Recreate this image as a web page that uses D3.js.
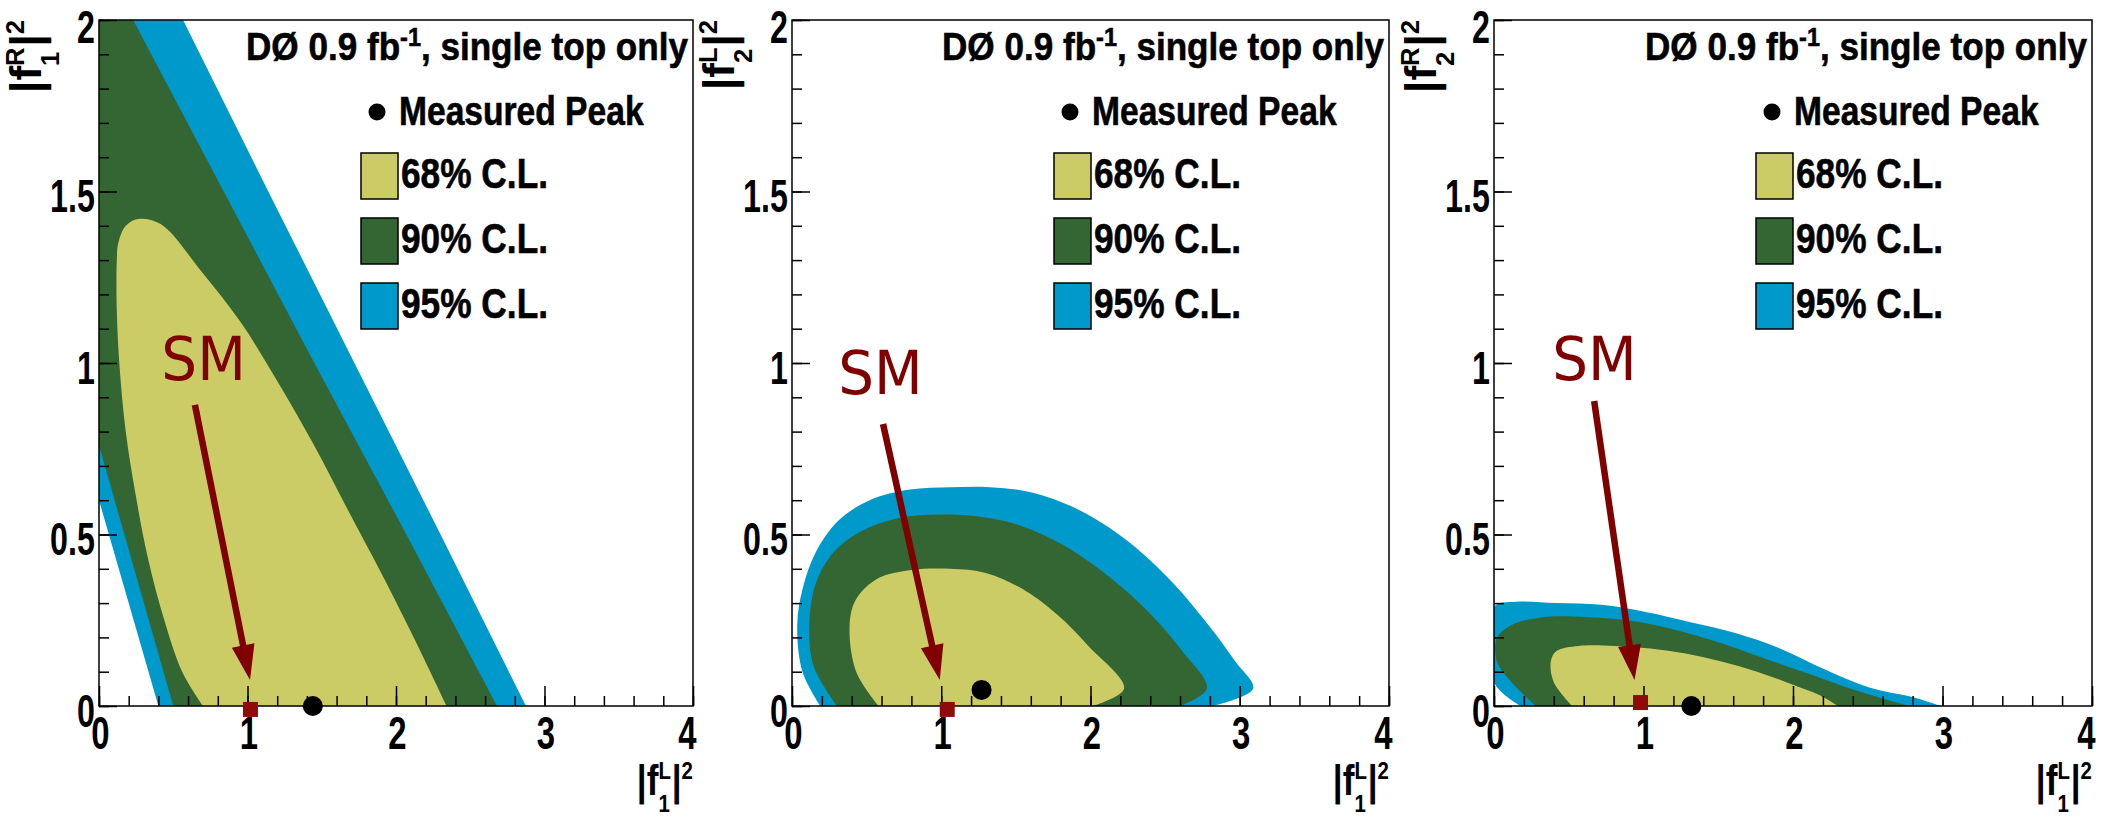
<!DOCTYPE html>
<html>
<head>
<meta charset="utf-8">
<script src="https://cdn.jsdelivr.net/npm/d3@7"></script>
<style>
  html, body { margin: 0; padding: 0; background: #fff; }
  svg { display: block; }
  text { font-family: "Liberation Sans", Arial, Helvetica, sans-serif; font-weight: bold; }
</style>
</head>
<body>
<div id="chart"></div>
<script>
// axis ticks and labels
const xTicks = [0, 1, 2, 3, 4];
const xTickLabels = ['0', '1', '2', '3', '4'];
const yTicks = [0, 0.5, 1, 1.5, 2];
const yTickLabels = ['0', '0.5', '1', '1.5', '2'];

// legend
const headerText = ['D\u00D8 0.9 fb', '-1', ', single top only'];
const peakLabel = 'Measured Peak';
const legendLabels = ['68% C.L.', '90% C.L.', '95% C.L.'];

// y axis titles |f^{sup}_{sub}|^2 for each panel
const yTitleSup = ['R', 'L', 'R'];
const yTitleSub = ['1', '2', '2'];

// contour outlines, [|f1L|^2, |f|^2]
const cl95_f1R = [[0.40, 0], [2.875, 0], [2.30, 0.50], [1.72, 1.0], [1.14, 1.50], [0.566, 2], [0, 2], [0, 0.60]];
const cl90_f1R = [[0.50, 0], [2.68, 0], [2.07, 0.50], [1.45, 1.0], [0.84, 1.50], [0.23, 2], [0, 2], [0, 0.76]];
const cl68_f1R = [[2.34, 0], [2.13, 0.19], [1.918, 0.373], [1.678, 0.57], [1.438, 0.768],
  [1.197, 0.95], [0.957, 1.117], [0.686, 1.269], [0.415, 1.405], [0.265, 1.42], [0.18, 1.40],
  [0.13, 1.35], [0.12, 1.30], [0.12, 1.15], [0.14, 0.98], [0.18, 0.80], [0.245, 0.62],
  [0.33, 0.43], [0.44, 0.25], [0.56, 0.10], [0.70, 0]];

const cl95_f2L = [[2.82, 0], [3.09, 0.051], [2.97, 0.13], [2.79, 0.236], [2.554, 0.358], [2.255, 0.479],
  [1.93, 0.570], [1.60, 0.623], [1.33, 0.638], [1.06, 0.638], [0.79, 0.631], [0.52, 0.60],
  [0.31, 0.54], [0.16, 0.449], [0.072, 0.343], [0.035, 0.236], [0.07, 0.10], [0.19, 0]];
const cl90_f2L = [[2.60, 0], [2.78, 0.051], [2.614, 0.16], [2.405, 0.267], [2.135, 0.373], [1.837, 0.464],
  [1.537, 0.525], [1.238, 0.553], [0.97, 0.558], [0.70, 0.547], [0.46, 0.509], [0.28, 0.449],
  [0.16, 0.358], [0.116, 0.236], [0.146, 0.115], [0.30, 0]];
const cl68_f2L = [[2.016, 0], [2.225, 0.051], [1.986, 0.175], [1.776, 0.267], [1.537, 0.343], [1.298, 0.388],
  [1.06, 0.40], [0.79, 0.396], [0.58, 0.373], [0.43, 0.312], [0.386, 0.236], [0.43, 0.10], [0.58, 0]];

const cl95_f2R = [[2.99, 0], [2.81, 0.025], [2.51, 0.054], [2.21, 0.107], [1.913, 0.168], [1.614, 0.213],
  [1.315, 0.244], [1.016, 0.274], [0.717, 0.295], [0.418, 0.30], [0.148, 0.304], [0, 0.289],
  [0, 0.069], [0.177, 0]];
const cl90_f2R = [[2.777, 0], [2.417, 0.046], [2.119, 0.092], [1.82, 0.137], [1.521, 0.183], [1.223, 0.221],
  [0.924, 0.248], [0.625, 0.259], [0.327, 0.259], [0.118, 0.236], [0.02, 0.198], [0.02, 0.13],
  [0.118, 0.069], [0.28, 0]];
const cl68_f2R = [[2.30, 0], [2.18, 0.031], [2.0, 0.062], [1.76, 0.10], [1.521, 0.13], [1.283, 0.153],
  [1.046, 0.168], [0.807, 0.175], [0.567, 0.175], [0.418, 0.16], [0.38, 0.13], [0.40, 0.069], [0.522, 0]];

// markers and SM annotation, per panel
const measuredPeak = [[1.44, 0], [1.27, 0.047], [1.32, 0]];
const smPoint = [[1.02, -0.01], [1.04, -0.01], [0.98, 0.01]];
const smLabelAt = [[0.42, 0.95], [0.31, 0.91], [0.39, 0.95]];
const arrowFrom = [[0.646, 0.878], [0.61, 0.822], [0.67, 0.889]];
const arrowTo = [[1.017, 0.076], [0.99, 0.076], [0.94, 0.076]];

(function() {
  'use strict';

  const width = 2101,
        height = 816,
        top = 20,
        bottom = 706,
        fillColors = ['#0099cc', '#336633', '#cccc66'],   // 95, 90, 68
        legendColors = ['#cccc66', '#336633', '#0099cc'],
        smRed = '#800000',
        panels = [
          { left: 99,   right: 693,  cl: [cl95_f1R, cl90_f1R, cl68_f1R], smooth: [false, false, true] },
          { left: 792,  right: 1389, cl: [cl95_f2L, cl90_f2L, cl68_f2L], smooth: [true, true, true] },
          { left: 1494, right: 2092, cl: [cl95_f2R, cl90_f2R, cl68_f2R], smooth: [true, true, true] }
        ],

        svg = d3.select('#chart')
          .append('svg')
          .attr('width', width)
          .attr('height', height),

      /**
       * Group with horizontally squeezed text
       */
      squeezed = (g, x, y, sx) => g.append('g')
        .attr('transform', `translate(${x},${y}) scale(${sx},1)`),

      /**
       * |f^{sup}_{sub}|^2 laid out from x = 0, returns its width
       */
      mathLabel = (g, sup, sub, fs) => {
        let small = fs * 0.58,
            x = 0;
        const put = (txt, size, dy) => g.append('text')
          .attr('x', x).attr('y', dy)
          .attr('font-size', size)
          .text(txt);

        x += put('|f', fs, 0).node().getComputedTextLength();
        let a = put(sup, small, -fs * 0.38),
            b = put(sub, small, fs * 0.40);
        x += Math.max(a.node().getComputedTextLength(), b.node().getComputedTextLength()) + 1;
        x += put('|', fs, 0).node().getComputedTextLength();
        x += put('2', small, -fs * 0.38).node().getComputedTextLength();
        return x;
      },

      styleAxis = (ax) => {
        ax.select('.domain').remove();
        ax.attr('font-family', null).attr('font-size', null);
        ax.selectAll('.tick line').attr('stroke', '#000').attr('stroke-width', 1.5);
      },

      heavy = (t) => t.attr('stroke', '#000').attr('stroke-width', 0.6),

      drawPanel = (p, i) => {
        const x = d3.scaleLinear().domain([0, 4]).range([p.left, p.right]),
              y = d3.scaleLinear().domain([0, 2]).range([bottom, top]),
              g = svg.append('g'),
              clipId = 'clip' + i;

        g.append('clipPath').attr('id', clipId)
          .append('rect')
          .attr('x', p.left).attr('y', top)
          .attr('width', p.right - p.left).attr('height', bottom - top);

        // Confidence regions: curved outline, closed straight along the axis
        const straight = d3.line()
                .x(d => x(d[0])).y(d => y(d[1]))
                .curve(d3.curveLinearClosed),
              curved = d3.line()
                .x(d => x(d[0])).y(d => y(d[1]))
                .curve(d3.curveCatmullRom.alpha(0.5));

        const regions = g.append('g').attr('clip-path', `url(#${clipId})`);
        p.cl.forEach((pts, k) => {
          regions.append('path')
            .attr('d', p.smooth[k] ? curved(pts) + 'Z' : straight(pts))
            .attr('fill', fillColors[k]);
        });

        // Ticks
        let ax = g.append('g').attr('transform', `translate(0,${bottom})`)
          .call(d3.axisBottom(x).tickValues(d3.range(0, 4.001, 0.2)).tickSize(-10).tickFormat(''));
        styleAxis(ax);

        ax = g.append('g').attr('transform', `translate(0,${bottom})`)
          .call(d3.axisBottom(x).tickValues(xTicks).tickSize(-20).tickFormat((d, j) => xTickLabels[j]));
        styleAxis(ax);
        ax.selectAll('.tick text')
          .attr('y', 43).attr('dy', null)
          .attr('font-size', 47)
          .attr('fill', '#000')
          .attr('transform', d => `translate(${d === 4 ? -6 : 1},0) scale(0.7,1)`);

        ax = g.append('g').attr('transform', `translate(${p.left},0)`)
          .call(d3.axisLeft(y).tickValues(d3.range(0, 2.001, 0.1)).tickSize(-10).tickFormat(''));
        styleAxis(ax);

        ax = g.append('g').attr('transform', `translate(${p.left},0)`)
          .call(d3.axisLeft(y).tickValues(yTicks).tickSize(-18).tickFormat((d, j) => yTickLabels[j]));
        styleAxis(ax);
        ax.selectAll('.tick text')
          .attr('x', -6).attr('y', d => d === 2 ? 22 : 20).attr('dy', null)
          .attr('font-size', 46)
          .attr('fill', '#000')
          .attr('transform', 'scale(0.7,1)');

        // Frame
        g.append('rect')
          .attr('x', p.left).attr('y', top)
          .attr('width', p.right - p.left).attr('height', bottom - top)
          .attr('fill', 'none')
          .attr('stroke', '#000')
          .attr('stroke-width', 1.5);

        // Measured peak and SM point
        g.append('circle')
          .attr('cx', x(measuredPeak[i][0]))
          .attr('cy', y(measuredPeak[i][1]))
          .attr('r', 10)
          .attr('fill', '#000');

        g.append('rect')
          .attr('x', x(smPoint[i][0]) - 7.5)
          .attr('y', y(smPoint[i][1]) - 7.5)
          .attr('width', 15).attr('height', 15)
          .attr('fill', '#8f0b0b');

        // SM arrow
        let x0 = x(arrowFrom[i][0]), y0 = y(arrowFrom[i][1]),
            x1 = x(arrowTo[i][0]), y1 = y(arrowTo[i][1]),
            len = Math.hypot(x1 - x0, y1 - y0),
            ux = (x1 - x0) / len, uy = (y1 - y0) / len,
            headLen = 35, headHalf = 11.5,
            bx = x1 - ux * headLen, by = y1 - uy * headLen;

        g.append('line')
          .attr('x1', x0).attr('y1', y0)
          .attr('x2', bx + ux * 2).attr('y2', by + uy * 2)
          .attr('stroke', smRed)
          .attr('stroke-width', 6.5);

        g.append('polygon')
          .attr('points', [[x1, y1], [bx - uy * headHalf, by + ux * headHalf], [bx + uy * headHalf, by - ux * headHalf]].join(' '))
          .attr('fill', smRed);

        squeezed(g, x(smLabelAt[i][0]), y(smLabelAt[i][1]), 0.94)
          .append('text')
          .style('font-family', '"DejaVu Sans", sans-serif')
          .style('font-weight', 'normal')
          .attr('font-size', 60)
          .attr('fill', smRed)
          .text('SM');

        // Legend
        const ht = squeezed(g, p.right - 5, 60, 0.9)
          .append('text')
          .attr('text-anchor', 'end')
          .attr('font-size', 39);
        heavy(ht);
        ht.append('tspan').text(headerText[0]);
        ht.append('tspan').attr('dy', -14).attr('font-size', 26).text(headerText[1]);
        ht.append('tspan').attr('dy', 14).text(headerText[2]);

        g.append('circle')
          .attr('cx', p.left + 278).attr('cy', 112)
          .attr('r', 8.5)
          .attr('fill', '#000');
        heavy(squeezed(g, p.left + 300, 125, 0.84)
          .append('text')
          .attr('font-size', 40)
          .text(peakLabel));

        legendLabels.forEach((label, k) => {
          g.append('rect')
            .attr('x', p.left + 262).attr('y', 153 + 65 * k)
            .attr('width', 37).attr('height', 46)
            .attr('fill', legendColors[k])
            .attr('stroke', '#000')
            .attr('stroke-width', 1.5);
          heavy(squeezed(g, p.left + 302, 188 + 65 * k, 0.84)
            .append('text')
            .attr('font-size', 42)
            .text(label));
        });

        // Axis titles
        let inner = squeezed(g, p.right, 795, 0.84).append('g'),
            w = mathLabel(inner, 'L', '1', 42);
        inner.attr('transform', `translate(${-w},0)`);

        inner = g.append('g')
          .attr('transform', `translate(${p.left - 58},${top}) rotate(-90)`)
          .append('g');
        w = mathLabel(inner, yTitleSup[i], yTitleSub[i], 44);
        inner.attr('transform', `translate(${-w},0)`);
      };

  panels.forEach(drawPanel);
})();
</script>
</body>
</html>
